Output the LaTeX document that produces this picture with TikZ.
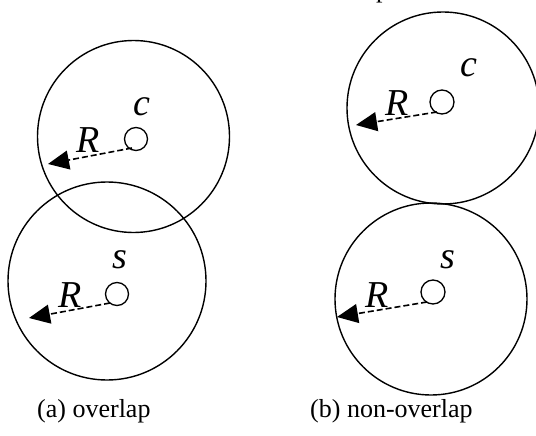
\documentclass[tikz,border=0pt]{standalone}
\usepackage{fontspec}
\setmainfont{Liberation Serif}[ItalicFont={Liberation Serif Italic}]
\usetikzlibrary{arrows.meta}
\begin{document}
\begin{tikzpicture}[x=1pt,y=-1pt,
  bigcirc/.style={draw,line width=1.4pt},
  smallcirc/.style={draw,line width=1.3pt},
  radarrow/.style={dashed,dash pattern=on 6pt off 3pt,line width=1.6pt,-{Triangle[length=21pt,width=19pt]}},
  lbl/.style={font=\fontsize{38}{40}\selectfont\itshape,inner sep=0pt,anchor=base},
  captext/.style={font=\fontsize{26}{28}\selectfont,inner sep=0pt,anchor=base west}]
\useasboundingbox (0,0) rectangle (536,436);
% fragment at top
\node[captext] (frag) at (376,-2) {p};
% panel (a)
\node[bigcirc,circle,minimum size=192pt,inner sep=0pt] (aC) at (133.5,136.5) {};
\node[bigcirc,circle,minimum size=198pt,inner sep=0pt] (aS) at (107,281) {};
\node[smallcirc,circle,minimum size=23pt,inner sep=0pt] (ac) at (136,139) {};
\node[smallcirc,circle,minimum size=23pt,inner sep=0pt] (as) at (117,294) {};
\coordinate (ac0) at (132,148);
\coordinate (ac1) at (48,164);
\coordinate (as0) at (110,303);
\coordinate (as1) at (29,318);
\draw[radarrow] (ac0) -- (ac1);
\draw[radarrow] (as0) -- (as1);
\node[lbl] (aR1) at (88,153) {R};
\node[lbl] (acl) at (142,115) {c};
\node[lbl] (aR2) at (70,307) {R};
\node[lbl] (asl) at (120,268) {s};
% panel (b)
\node[bigcirc,circle,minimum size=192pt,inner sep=0pt] (bC) at (443,108) {};
\node[bigcirc,circle,minimum size=192pt,inner sep=0pt] (bS) at (431,299) {};
\node[smallcirc,circle,minimum size=24pt,inner sep=0pt] (bc) at (442,102) {};
\node[smallcirc,circle,minimum size=24pt,inner sep=0pt] (bs) at (433,292) {};
\coordinate (bc0) at (437,112);
\coordinate (bc1) at (356,125);
\coordinate (bs0) at (427,302);
\coordinate (bs1) at (337,317);
\draw[radarrow] (bc0) -- (bc1);
\draw[radarrow] (bs0) -- (bs1);
\node[lbl] (bR1) at (397,115) {R};
\node[lbl] (bcl) at (469,77) {c};
\node[lbl] (bR2) at (377,307) {R};
\node[lbl] (bsl) at (448,268) {s};
% captions
\node[captext] (capa) at (37,417) {(a) overlap};
\node[captext] (capb) at (310,417) {(b) non-overlap};
\end{tikzpicture}
\end{document}
